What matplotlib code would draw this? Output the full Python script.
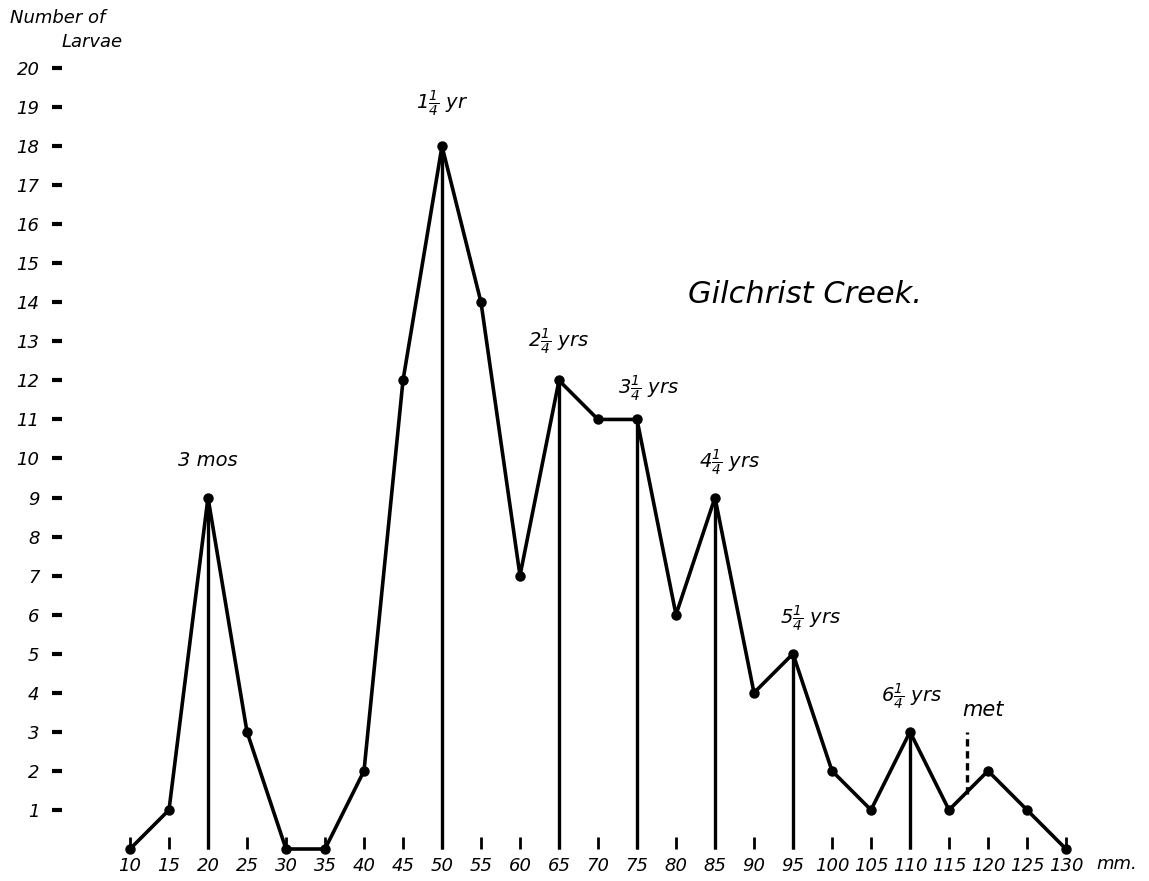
import numpy as np
import matplotlib
matplotlib.use("Agg")
import matplotlib.pyplot as plt

# hand drawn italic look
plt.rcParams['font.family'] = ['DejaVu Sans']
plt.rcParams['font.style'] = 'italic'
plt.rcParams['mathtext.fontset'] = 'custom'
plt.rcParams['mathtext.rm'] = 'DejaVu Sans:italic'
plt.rcParams['mathtext.it'] = 'DejaVu Sans:italic'

# data: length class (mm) vs number of larvae
length_mm = [10, 15, 20, 25, 30, 35, 40, 45, 50, 55, 60, 65, 70, 75, 80,
             85, 90, 95, 100, 105, 110, 115, 120, 125, 130]
larvae = [0, 1, 9, 3, 0, 0, 2, 12, 18, 14, 7, 12, 11, 11, 6,
          9, 4, 5, 2, 1, 3, 1, 2, 1, 0]

# year-class peaks marked with a drop line
peak_mm = [20, 50, 65, 75, 85, 95, 110]
peak_labels = ["3 mos", r"$1\frac{1}{4}$ yr", r"$2\frac{1}{4}$ yrs", r"$3\frac{1}{4}$ yrs",
               r"$4\frac{1}{4}$ yrs", r"$5\frac{1}{4}$ yrs", r"$6\frac{1}{4}$ yrs"]
label_pos = [(20, 9.7), (50, 18.7), (65, 12.6), (76.5, 11.4),
             (86.8, 9.5), (97.2, 5.5), (110.2, 3.5)]

met_mm = 117.3
met_range = (1.4, 3.0)

x_ticks = list(range(10, 135, 5))
y_ticks = list(range(1, 21))

fig = plt.figure(figsize=(11.49, 8.81), dpi=100)
ax = fig.add_axes([52/1149, 32/881, 1092/1149, 781/881])
ax.set_xlim(0, 140)
ax.set_ylim(0, 20)

peak_vals = [larvae[length_mm.index(p)] for p in peak_mm]
ax.vlines(peak_mm, 0, peak_vals, color='black', lw=2.4, clip_on=False)
ax.plot(length_mm, larvae, color='black', lw=2.6, marker='o', ms=6.5,
        solid_joinstyle='round', clip_on=False, zorder=3)
ax.vlines(met_mm, met_range[0], met_range[1], color='black', lw=2.4,
          linestyles=(0, (2.2, 1.4)))

for (x, y), lab in zip(label_pos, peak_labels):
    ax.text(x, y, lab, ha='center', va='bottom', fontsize=14)
ax.text(119.3, 3.3, "met", ha='center', va='bottom', fontsize=15)

ax.text(96.5, 14.2, "Gilchrist Creek.", ha='center', va='center', fontsize=22)

for s in ax.spines.values():
    s.set_visible(False)
ax.set_xticks(x_ticks)
ax.set_xticklabels([str(v) for v in x_ticks])
ax.set_yticks(y_ticks)
ax.set_yticklabels([str(v) for v in y_ticks])
ax.tick_params(axis='y', direction='in', length=7, width=3, pad=9, labelsize=13)
ax.tick_params(axis='x', direction='in', length=9, width=2, pad=6, labelsize=13)

fig.text(10/1149, 1 - 18/881, "Number of", ha='left', va='center', fontsize=13)
fig.text(62/1149, 1 - 42/881, "Larvae", ha='left', va='center', fontsize=13)
fig.text(1096/1149, 1 - 864/881, "mm.", ha='left', va='center', fontsize=13)

fig.savefig("out.png", dpi=100, facecolor='white')
